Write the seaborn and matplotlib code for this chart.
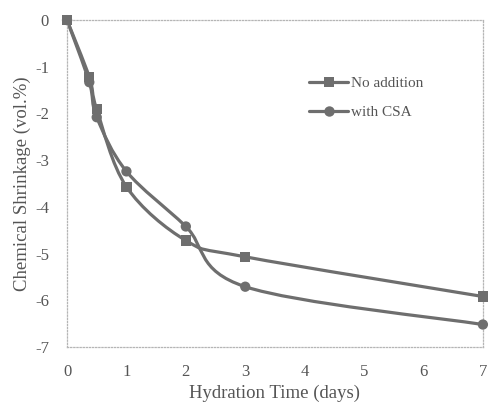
import numpy as np
import pandas as pd
import matplotlib
matplotlib.use("Agg")
import matplotlib.pyplot as plt
from matplotlib.path import Path
from matplotlib.patches import PathPatch
import seaborn as sns

# hydration time (days) and chemical shrinkage (vol.%)
days = [0, 0.375, 0.5, 1, 2, 3, 7]
no_addition = [0, -1.22, -1.91, -3.57, -4.72, -5.07, -5.92]
with_csa = [0, -1.33, -2.08, -3.24, -4.42, -5.71, -6.52]

series_names = ["No addition", "with CSA"]
series_markers = {"No addition": "s", "with CSA": "o"}

LINE_COLOR = "#6e6e6e"
TEXT_COLOR = "#555555"


def smooth_path(xs, ys):
    # Excel-style smoothed line: cubic Bezier through every point
    pts = np.column_stack([xs, ys]).astype(float)
    padded = np.vstack([pts[0], pts, pts[-1]])
    verts = [pts[0]]
    codes = [Path.MOVETO]
    for i in range(len(pts) - 1):
        p0, p1, p2, p3 = padded[i], padded[i + 1], padded[i + 2], padded[i + 3]
        c1 = p1 + (p2 - p0) / 6.0
        c2 = p2 - (p3 - p1) / 6.0
        verts += [c1, c2, p2]
        codes += [Path.CURVE4] * 3
    return Path(verts, codes)


df = pd.DataFrame({
    "days": days * 2,
    "shrinkage": no_addition + with_csa,
    "series": [series_names[0]] * len(days) + [series_names[1]] * len(days),
})

sns.set_style("white")
plt.rcParams["font.family"] = ["Liberation Serif", "DejaVu Serif"]

fig = plt.figure(figsize=(4.91, 4.19), dpi=100)
ax = fig.add_axes([0.1365, 0.172, 0.847, 0.780])

for name, vals in zip(series_names, [no_addition, with_csa]):
    ax.add_patch(PathPatch(smooth_path(days, vals), facecolor="none",
                           edgecolor=LINE_COLOR, lw=2.3, zorder=2))

sns.scatterplot(data=df, x="days", y="shrinkage", style="series",
                markers=series_markers, color=LINE_COLOR, s=55,
                edgecolor=LINE_COLOR, linewidth=0, legend=False,
                ax=ax, zorder=3, clip_on=False)

ax.set_xlim(0, 7)
ax.set_ylim(-7, 0)
ax.set_xticks(range(0, 8))
ax.set_yticks(range(-7, 1))
ax.set_yticklabels([str(v) for v in range(-7, 1)])
ax.tick_params(axis="both", length=0, labelsize=12, colors=TEXT_COLOR)
ax.tick_params(axis="x", pad=12)
ax.tick_params(axis="y", pad=13)

for sp in ax.spines.values():
    sp.set_linestyle((0, (1, 1.5)))
    sp.set_color("#b5b5b5")
    sp.set_linewidth(0.9)

ax.set_xlabel("Hydration Time (days)", fontsize=13.5, color=TEXT_COLOR, labelpad=4)
ax.set_ylabel("Chemical Shrinkage (vol.%)", fontsize=13.5, color=TEXT_COLOR, labelpad=3)

handles = [
    plt.Line2D([], [], color=LINE_COLOR, lw=2.3, marker=series_markers[n],
               markersize=7.5, markeredgewidth=0)
    for n in series_names
]
ax.legend(handles, series_names, loc="center left", bbox_to_anchor=(0.568, 0.763),
          borderaxespad=0, frameon=False, fontsize=11, handlelength=2.55,
          handletextpad=0.2, labelspacing=1.0, labelcolor=TEXT_COLOR)

fig.savefig("out.png", dpi=100)
